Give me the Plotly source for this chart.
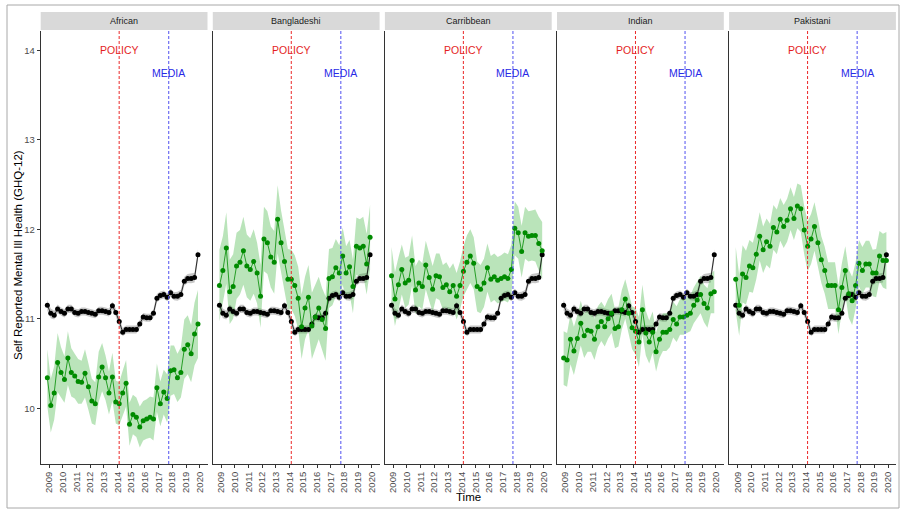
import plotly.graph_objects as go

# ---------------- data ----------------
time = [2008.875,
        2009.125, 2009.375, 2009.625, 2009.875,
        2010.125, 2010.375, 2010.625, 2010.875,
        2011.125, 2011.375, 2011.625, 2011.875,
        2012.125, 2012.375, 2012.625, 2012.875,
        2013.125, 2013.375, 2013.625, 2013.875,
        2014.125, 2014.375, 2014.625, 2014.875,
        2015.125, 2015.375, 2015.625, 2015.875,
        2016.125, 2016.375, 2016.625, 2016.875,
        2017.125, 2017.375, 2017.625, 2017.875,
        2018.125, 2018.375, 2018.625, 2018.875,
        2019.125, 2019.375, 2019.625, 2019.875]

groups = ["African", "Bangladeshi", "Carribbean", "Indian", "Pakistani"]

overall = [11.15, 11.06, 11.04, 11.11, 11.08, 11.06, 11.11, 11.11, 11.07, 11.06,
           11.08, 11.08, 11.07, 11.06, 11.05, 11.09, 11.09, 11.08, 11.07, 11.145,
           11.07, 10.97, 10.85, 10.88, 10.88, 10.88, 10.88, 10.94, 11.02, 11.01,
           11.01, 11.06, 11.23, 11.26, 11.27, 11.24, 11.29, 11.25, 11.25, 11.27,
           11.42, 11.45, 11.45, 11.46, 11.715]
overall_ci = [0.06, 0.055, 0.05, 0.05, 0.045, 0.045, 0.045, 0.045, 0.045, 0.045,
              0.045, 0.045, 0.045, 0.045, 0.045, 0.045, 0.045, 0.045, 0.045, 0.045,
              0.045, 0.045, 0.045, 0.045, 0.045, 0.045, 0.045, 0.045, 0.045, 0.045,
              0.045, 0.045, 0.045, 0.045, 0.045, 0.045, 0.045, 0.045, 0.05, 0.05,
              0.05, 0.05, 0.055, 0.055, 0.06]

african = [10.34, 10.03, 10.17, 10.51, 10.40, 10.32, 10.56, 10.40, 10.36, 10.30,
           10.29, 10.39, 10.24, 10.08, 10.05, 10.35, 10.46, 10.34, 10.17, 10.35,
           10.07, 10.05, 10.17, 10.28, 9.82, 9.93, 9.90, 9.79, 9.86, 9.88,
           9.90, 9.88, 10.23, 10.05, 10.18, 10.11, 10.42, 10.43, 10.34, 10.40,
           10.66, 10.71, 10.61, 10.83, 10.94]
african_ci = [0.32, 0.30, 0.30, 0.33, 0.28, 0.26, 0.30, 0.27, 0.25, 0.25,
              0.24, 0.27, 0.26, 0.25, 0.24, 0.28, 0.27, 0.25, 0.24, 0.27,
              0.24, 0.24, 0.25, 0.26, 0.24, 0.22, 0.22, 0.23, 0.22, 0.22,
              0.23, 0.24, 0.27, 0.25, 0.25, 0.27, 0.28, 0.27, 0.27, 0.28,
              0.33, 0.33, 0.32, 0.35, 0.38]

bangladeshi = [11.37, 11.54, 11.79, 11.30, 11.36, 11.59, 11.63, 11.76, 11.59, 11.55,
               11.64, 11.51, 11.25, 11.89, 11.85, 11.69, 11.63, 12.11, 11.85, 11.64,
               11.44, 11.44, 11.37, 11.23, 10.91, 11.12, 11.24, 10.92, 11.02, 11.12,
               10.99, 10.89, 11.45, 11.47, 11.57, 11.51, 11.70, 11.51, 11.58, 11.36,
               11.81, 11.79, 11.81, 11.61, 11.91]
bangladeshi_ci = [0.40, 0.38, 0.40, 0.36, 0.36, 0.37, 0.36, 0.38, 0.35, 0.35,
                  0.36, 0.34, 0.35, 0.36, 0.35, 0.34, 0.35, 0.38, 0.36, 0.34,
                  0.34, 0.33, 0.34, 0.35, 0.36, 0.35, 0.36, 0.37, 0.36, 0.35,
                  0.35, 0.36, 0.33, 0.32, 0.32, 0.31, 0.32, 0.30, 0.30, 0.30,
                  0.32, 0.32, 0.33, 0.34, 0.36]

carribbean = [11.48, 11.22, 11.38, 11.55, 11.40, 11.43, 11.65, 11.32, 11.40, 11.36,
              11.60, 11.46, 11.33, 11.48, 11.47, 11.35, 11.38, 11.30, 11.37, 11.25,
              11.37, 11.53, 11.63, 11.70, 11.62, 11.36, 11.33, 11.40, 11.57, 11.44,
              11.47, 11.43, 11.45, 11.47, 11.45, 11.55, 12.01, 11.96, 11.75, 11.96,
              11.92, 11.93, 11.93, 11.84, 11.76]
carribbean_ci = [0.32, 0.30, 0.30, 0.28, 0.28, 0.27, 0.28, 0.27, 0.26, 0.26,
                 0.27, 0.26, 0.26, 0.25, 0.26, 0.25, 0.25, 0.26, 0.25, 0.26,
                 0.27, 0.28, 0.30, 0.30, 0.29, 0.28, 0.27, 0.27, 0.27, 0.26,
                 0.26, 0.26, 0.26, 0.27, 0.27, 0.28, 0.30, 0.29, 0.29, 0.29,
                 0.28, 0.28, 0.29, 0.30, 0.32]

indian = [10.56, 10.54, 10.77, 10.64, 10.78, 10.95, 10.81, 10.87, 10.86, 10.77,
          10.91, 10.97, 10.91, 11.00, 11.06, 10.89, 10.91, 11.10, 11.22, 11.06,
          10.90, 10.86, 10.74, 11.10, 10.84, 10.74, 10.85, 10.63, 10.77, 10.85,
          10.85, 10.88, 10.99, 10.94, 11.02, 11.02, 11.04, 11.06, 11.15, 11.21,
          11.27, 11.17, 11.12, 11.28, 11.30]
indian_ci = [0.30, 0.30, 0.28, 0.27, 0.26, 0.25, 0.25, 0.24, 0.23, 0.23,
             0.23, 0.22, 0.22, 0.22, 0.22, 0.22, 0.22, 0.22, 0.22, 0.22,
             0.24, 0.26, 0.28, 0.28, 0.25, 0.24, 0.23, 0.22, 0.21, 0.21,
             0.21, 0.20, 0.20, 0.20, 0.20, 0.20, 0.20, 0.20, 0.20, 0.20,
             0.21, 0.21, 0.22, 0.22, 0.24]

pakistani = [11.44, 11.15, 11.50, 11.46, 11.59, 11.57, 11.72, 11.92, 11.77, 11.86,
             11.81, 12.02, 11.97, 12.11, 12.03, 12.10, 12.23, 12.12, 12.26, 12.23,
             11.99, 11.81, 11.89, 12.03, 11.85, 11.66, 11.54, 11.37, 11.37, 11.37,
             11.10, 11.35, 11.54, 11.28, 11.20, 11.37, 11.62, 11.54, 11.61, 11.61,
             11.51, 11.51, 11.70, 11.65, 11.65]
pakistani_ci = [0.36, 0.34, 0.32, 0.30, 0.29, 0.28, 0.28, 0.27, 0.26, 0.26,
                0.25, 0.25, 0.25, 0.24, 0.24, 0.24, 0.24, 0.24, 0.25, 0.26,
                0.27, 0.28, 0.28, 0.27, 0.27, 0.26, 0.26, 0.26, 0.26, 0.26,
                0.27, 0.27, 0.27, 0.27, 0.27, 0.26, 0.26, 0.26, 0.26, 0.26,
                0.26, 0.27, 0.28, 0.30, 0.32]

group_values = [african, bangladeshi, carribbean, indian, pakistani]
group_ci = [african_ci, bangladeshi_ci, carribbean_ci, indian_ci, pakistani_ci]

policy_date = 2014.12
media_date = 2017.74
year_ticks = list(range(2009, 2021))

# ---------------- layout geometry (pixels) ----------------
W, H = 900, 510
plot_top, plot_bottom = 30.5, 464
strip_top, strip_bottom = 12, 30
panel_left0, panel_w, gap = 40.7, 166.8, 5.3
x_range = [2008.39, 2020.57]
y_range = [9.377, 14.22]

GREEN = "#008B00"
font_family = "Liberation Sans, Arial, sans-serif"

fig = go.Figure()
layout_axes = {}
shapes = []
annotations = []

ydom = [(H - plot_bottom) / H, (H - plot_top) / H]

for i, g in enumerate(groups):
    sfx = "" if i == 0 else str(i + 1)
    xa, ya = "x" + sfx, "y" + sfx
    x0 = panel_left0 + i * (panel_w + gap)
    x1 = x0 + panel_w

    vals = group_values[i]
    ci = group_ci[i]

    # grey ribbon (overall)
    up = [v + c for v, c in zip(overall, overall_ci)]
    lo = [v - c for v, c in zip(overall, overall_ci)]
    fig.add_trace(go.Scatter(x=time + time[::-1], y=up + lo[::-1], fill="toself",
                             fillcolor="rgba(120,120,120,0.42)", line=dict(width=0),
                             mode="lines", hoverinfo="skip", showlegend=False,
                             xaxis=xa, yaxis=ya))
    # green ribbon
    up = [v + c for v, c in zip(vals, ci)]
    lo = [v - c for v, c in zip(vals, ci)]
    fig.add_trace(go.Scatter(x=time + time[::-1], y=up + lo[::-1], fill="toself",
                             fillcolor="rgba(40,170,40,0.32)", line=dict(width=0),
                             mode="lines", hoverinfo="skip", showlegend=False,
                             xaxis=xa, yaxis=ya))
    # overall black line
    fig.add_trace(go.Scatter(x=time, y=overall, mode="lines+markers",
                             line=dict(color="black", width=0.8),
                             marker=dict(color="black", size=5),
                             showlegend=False, xaxis=xa, yaxis=ya))
    # group green line
    fig.add_trace(go.Scatter(x=time, y=vals, mode="lines+markers",
                             line=dict(color=GREEN, width=0.8),
                             marker=dict(color=GREEN, size=5),
                             showlegend=False, xaxis=xa, yaxis=ya))

    layout_axes["xaxis" + sfx] = dict(
        domain=[x0 / W, x1 / W], range=x_range, anchor=ya,
        tickmode="array", tickvals=year_ticks, ticktext=[str(t) for t in year_ticks],
        tickangle=-90, ticks="outside", ticklen=3, tickwidth=0.8, tickcolor="#333333",
        showline=True, linecolor="#333333", linewidth=1, showgrid=False, zeroline=False,
        tickfont=dict(size=9.5, color="#4D4D4D", family=font_family),
        fixedrange=True,
    )
    layout_axes["yaxis" + sfx] = dict(
        domain=ydom, range=y_range, anchor=xa,
        tickmode="array", tickvals=[10, 11, 12, 13, 14],
        ticks="outside" if i == 0 else "", ticklen=3, tickwidth=0.8, tickcolor="#333333",
        showticklabels=(i == 0),
        showline=True, linecolor="#333333", linewidth=1, showgrid=False, zeroline=False,
        tickfont=dict(size=9.5, color="#4D4D4D", family=font_family),
        fixedrange=True,
    )

    # strip
    shapes.append(dict(type="rect", xref="paper", yref="paper",
                       x0=x0 / W, x1=x1 / W,
                       y0=(H - strip_bottom) / H, y1=(H - strip_top) / H,
                       fillcolor="#D9D9D9", line=dict(width=0), layer="below"))
    annotations.append(dict(x=(x0 + x1) / 2 / W, y=(H - (strip_top + strip_bottom) / 2) / H,
                            xref="paper", yref="paper", text=g, showarrow=False,
                            font=dict(size=9, color="#1A1A1A", family=font_family),
                            xanchor="center", yanchor="middle"))

    # vertical lines
    shapes.append(dict(type="line", xref=xa, yref=ya + " domain",
                       x0=policy_date, x1=policy_date, y0=0, y1=1, layer="above",
                       line=dict(color="rgb(235,40,40)", width=1, dash="3px,2px")))
    shapes.append(dict(type="line", xref=xa, yref=ya + " domain",
                       x0=media_date, x1=media_date, y0=0, y1=1, layer="above",
                       line=dict(color="rgb(80,80,240)", width=1, dash="3px,2px")))
    annotations.append(dict(x=policy_date, y=14.0, xref=xa, yref=ya, text="POLICY",
                            showarrow=False, xanchor="center", yanchor="middle",
                            font=dict(size=10.5, color="rgb(228,30,30)", family=font_family)))
    annotations.append(dict(x=media_date, y=13.75, xref=xa, yref=ya, text="MEDIA",
                            showarrow=False, xanchor="center", yanchor="middle",
                            font=dict(size=10.5, color="rgb(40,40,230)", family=font_family)))

# axis titles
annotations.append(dict(x=18 / W, y=(H - 255) / H, xref="paper", yref="paper",
                        text="Self Reported Mental Ill Health (GHQ-12)", textangle=-90,
                        showarrow=False, xanchor="center", yanchor="middle",
                        font=dict(size=11.5, color="black", family=font_family)))
annotations.append(dict(x=468 / W, y=(H - 497) / H, xref="paper", yref="paper",
                        text="Time", showarrow=False, xanchor="center", yanchor="middle",
                        font=dict(size=11.5, color="black", family=font_family)))

# outer frame of the screenshot
shapes.append(dict(type="rect", xref="paper", yref="paper",
                   x0=7 / W, x1=899 / W, y0=(H - 508) / H, y1=(H - 5) / H,
                   line=dict(color="#A8A8A8", width=1), fillcolor="rgba(0,0,0,0)",
                   layer="below"))

fig.update_layout(
    width=W, height=H,
    margin=dict(l=0, r=0, t=0, b=0, autoexpand=False),
    plot_bgcolor="white", paper_bgcolor="white",
    font=dict(family=font_family),
    shapes=shapes, annotations=annotations,
    showlegend=False,
    **layout_axes,
)

fig.write_html("out.html")
